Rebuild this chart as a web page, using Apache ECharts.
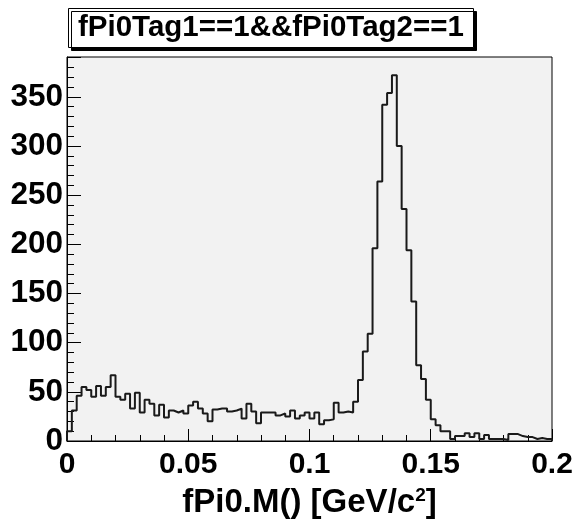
<!DOCTYPE html>
<html>
<head>
<meta charset="utf-8">
<script src="https://cdn.jsdelivr.net/npm/echarts@6/dist/echarts.min.js"></script>
<style>
html,body{margin:0;padding:0;background:#fff;}
#chart{width:573px;height:523px;}
</style>
</head>
<body>
<div id="chart"></div>
<script>
// Histogram binning
const xMin = 0;
const xMax = 0.2;
const nBins = 100;
// Bin contents (entries per bin)
const binCounts = [
  10, 31, 46, 55, 52, 45, 56, 46, 55, 67,
  45, 42, 48, 33, 49, 29, 42, 38, 26, 37,
  24, 31, 29, 31, 28, 36, 40, 33, 28, 20,
  32, 33, 33, 30, 31, 33, 23, 38, 30, 18,
  29, 29, 29, 26, 28, 25, 31, 23, 26, 29,
  23, 29, 17, 21, 22, 39, 29, 30, 29, 40,
  62, 91, 109, 196, 264, 342, 354, 372, 300, 236,
  194, 142, 77, 63, 42, 22, 16, 10, 10, 2,
  5, 5, 8, 4, 8, 2, 6, 2, 2, 2,
  1, 7, 7, 5, 4, 4, 2, 3, 2, 2
];
const titleText = 'fPi0Tag1==1&&fPi0Tag2==1';
const xTitle = 'fPi0.M() [GeV/c';

const binW = (xMax - xMin) / nBins;
const steps = [[xMin, 0]];
binCounts.forEach((v, i) => steps.push([xMin + i * binW, v]));
steps.push([xMax, binCounts[binCounts.length - 1]]);
steps.push([xMax, 0]);

const yMax = Math.max(...binCounts) * 1.05;
const font = 'Liberation Sans, Arial, Helvetica, sans-serif';

const chart = echarts.init(document.getElementById('chart'), null, {renderer: 'canvas'});
chart.setOption({
  animation: false,
  backgroundColor: '#ffffff',
  title: {
    text: titleText,
    left: 68,
    top: 8,
    padding: [4, 10, 5, 10],
    backgroundColor: '#ffffff',
    borderColor: '#000',
    borderWidth: 1,
    shadowColor: '#000',
    shadowBlur: 0,
    shadowOffsetX: 3,
    shadowOffsetY: 3,
    textStyle: {fontFamily: font, fontWeight: 'bold', fontSize: 29.5, lineHeight: 31, color: '#000'}
  },
  grid: {
    left: 67, right: 21, top: 57, bottom: 82,
    outerBoundsMode: 'none',
    containLabel: false,
    show: true,
    backgroundColor: '#f2f2f2',
    borderColor: '#000',
    borderWidth: 1
  },
  xAxis: {
    type: 'value',
    min: xMin, max: xMax, interval: 0.05,
    axisLine: {show: true, lineStyle: {color: '#000', width: 1}},
    axisTick: {show: true, inside: true, length: 12, lineStyle: {color: '#000'}},
    minorTick: {show: true, splitNumber: 5, length: 6, lineStyle: {color: '#000'}},
    splitLine: {show: false},
    axisLabel: {fontFamily: font, fontWeight: 'bold', fontSize: 30, color: '#000', margin: 9},
    name: '{a|' + xTitle + '}{s|2}{a|]}',
    nameLocation: 'middle',
    nameGap: 45,
    nameTextStyle: {
      rich: {
        a: {fontFamily: font, fontWeight: 'bold', fontSize: 33, color: '#000'},
        s: {fontFamily: font, fontWeight: 'bold', fontSize: 19, color: '#000', verticalAlign: 'top', padding: [0, 0, 13, 0]}
      }
    }
  },
  yAxis: {
    type: 'value',
    min: 0, max: yMax, interval: 50,
    axisLine: {show: true, lineStyle: {color: '#000', width: 1}},
    axisTick: {show: true, inside: true, length: 14, lineStyle: {color: '#000'}},
    minorTick: {show: true, splitNumber: 5, length: 7, lineStyle: {color: '#000'}},
    splitLine: {show: false},
    axisLabel: {fontFamily: font, fontWeight: 'bold', fontSize: 31.5, color: '#000', margin: 4,
      showMaxLabel: false}
  },
  series: [{
    type: 'line',
    step: 'end',
    data: steps,
    symbol: 'none',
    lineStyle: {color: '#1a1a1a', width: 2},
    clip: true
  }]
});
</script>
</body>
</html>
